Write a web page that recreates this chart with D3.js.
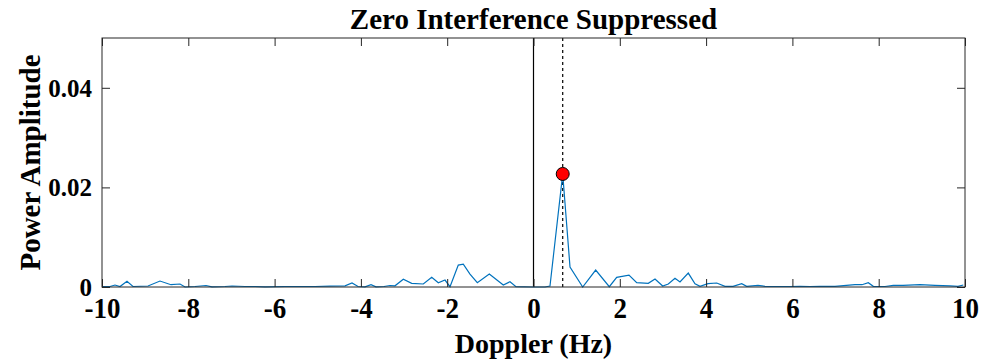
<!DOCTYPE html>
<html>
<head>
<meta charset="utf-8">
<script src="https://cdn.jsdelivr.net/npm/d3@7"></script>
<style>
  body { margin: 0; background: #fff; }
  text { font-family: "Liberation Serif", "Times New Roman", serif; font-weight: bold; fill: #000; }
</style>
</head>
<body>
<div id="chart"></div>
<script>
const width = 996;
const height = 360;
const margin = { top: 38, right: 31, bottom: 73, left: 102 };
const innerWidth = width - margin.left - margin.right;
const innerHeight = height - margin.top - margin.bottom;

// spectrum
const doppler = [-10.00, -9.815, -9.699, -9.583, -9.421, -9.282, -8.934, -8.656, -8.401, -8.192,
  -8.076, -7.845, -7.590, -7.451, -7.150, -6.987, -6.686, -6.454, -6.222, -5.759,
  -5.411, -5.064, -4.716, -4.368, -4.206, -4.067, -3.905, -3.766, -3.650, -3.465,
  -3.326, -3.210, -3.017, -2.823, -2.554, -2.359, -2.206, -2.051, -1.935, -1.743,
  -1.627, -1.472, -1.302, -1.024, -0.700, -0.545, -0.406, -0.012, 0.266, 0.382,
  0.677, 0.846, 1.140, 1.441, 1.757, 1.928, 2.213, 2.392, 2.660, 2.816,
  2.994, 3.124, 3.279, 3.395, 3.587, 3.743, 3.859, 4.044, 4.246, 4.438,
  4.624, 4.825, 4.941, 5.203, 5.365, 5.597, 5.944, 6.176, 6.408, 6.640,
  6.987, 7.451, 7.613, 7.759, 7.875, 8.146, 8.338, 8.563, 8.957, 9.305,
  9.652, 9.838, 9.961];
const power = [0.0001, 0.0001, 0.0004, 0.0001, 0.00114, 0.0001, 0.0002, 0.0012, 0.00046, 0.0006,
  0.0, 0.0001, 0.0003, 0.00004, 0.0001, 0.0002, 0.0001, 0.0001, 0.00004, 0.0001,
  0.0001, 0.0001, 0.00016, 0.00024, 0.0008, 0.0001, 0.00004, 0.00046, 0.00004, 0.0001,
  0.0003, 0.00024, 0.00155, 0.00074, 0.0006, 0.00195, 0.00086, 0.0014, 0.00006, 0.0044,
  0.0046, 0.0026, 0.00086, 0.0026, 0.0004, 0.00106, 0.00006, 0.0, 0.0, 0.0002,
  0.0227, 0.0040, 0.0, 0.0034, 0.00006, 0.00195, 0.0024, 0.00086, 0.00074, 0.0016,
  0.0002, 0.0006, 0.00175, 0.001, 0.0028, 0.00066, 0.00014, 0.00066, 0.0008, 0.00014,
  0.00014, 0.00066, 0.00014, 0.00034, 0.00014, 0.0001, 0.0001, 0.00014, 0.0001, 0.00014,
  0.00014, 0.00046, 0.00046, 0.00086, 0.00014, 0.0001, 0.00034, 0.00034, 0.00046, 0.00034,
  0.00024, 0.00014, 0.0004];

const peak = { doppler: 0.677, power: 0.0227 };
const xTicks = [-10, -8, -6, -4, -2, 0, 2, 4, 6, 8, 10];
const yTicks = [0, 0.02, 0.04];
const yTickLabels = ['0', '0.02', '0.04'];
const axisColor = '#262626';
const lineColor = '#0072BD';
const tickLen = 8;

const data = doppler.map((d, i) => ({ x: d, y: power[i] }));

const svg = d3.select('#chart').append('svg')
  .attr('width', width)
  .attr('height', height);

const g = svg.append('g')
  .attr('transform', `translate(${margin.left}, ${margin.top})`);

const x = d3.scaleLinear().domain([-10, 10]).range([0, innerWidth]);
const y = d3.scaleLinear().domain([0, 0.05]).range([innerHeight, 0]);

// zero line and peak marker line
g.append('line')
  .attr('x1', x(0)).attr('x2', x(0))
  .attr('y1', 0).attr('y2', innerHeight)
  .attr('stroke', '#000').attr('stroke-width', 1.2);

g.append('line')
  .attr('x1', x(peak.doppler)).attr('x2', x(peak.doppler))
  .attr('y1', 0).attr('y2', innerHeight)
  .attr('stroke', '#000').attr('stroke-width', 1.2)
  .attr('stroke-dasharray', '3,3');

// spectrum
g.append('path')
  .datum(data)
  .attr('fill', 'none')
  .attr('stroke', lineColor)
  .attr('stroke-width', 1.2)
  .attr('d', d3.line().x(d => x(d.x)).y(d => y(d.y)));

// axes, ticks inward on all sides, hyphen minus like the original
const xAxis = d3.axisBottom(x).tickValues(xTicks).tickSizeInner(-tickLen).tickSizeOuter(0).tickPadding(12)
  .tickFormat(d => String(d));
const yAxis = d3.axisLeft(y).tickValues(yTicks).tickSizeInner(-tickLen).tickSizeOuter(0).tickPadding(10)
  .tickFormat((d, i) => yTickLabels[i]);

const xAxisG = g.append('g').attr('transform', `translate(0, ${innerHeight})`).call(xAxis);
xAxisG.selectAll('text')
  .style('font-size', '27px')
  .attr('y', 0).attr('dy', 0)
  .attr('transform', 'translate(0, 31) scale(1, 1.12)');
const yAxisG = g.append('g').call(yAxis);
yAxisG.selectAll('text').style('font-size', '25px').attr('dy', '0.34em');

g.append('g').call(d3.axisTop(x).tickValues(xTicks).tickSizeInner(-tickLen).tickSizeOuter(0).tickFormat(''));
g.append('g').attr('transform', `translate(${innerWidth}, 0)`)
  .call(d3.axisRight(y).tickValues(yTicks).tickSizeInner(-tickLen).tickSizeOuter(0).tickFormat(''));

g.selectAll('.domain').remove();
g.selectAll('.tick line').attr('stroke', axisColor);

g.append('rect')
  .attr('width', innerWidth).attr('height', innerHeight)
  .attr('fill', 'none').attr('stroke', axisColor).attr('stroke-width', 1);

// peak dot
g.append('circle')
  .attr('cx', x(peak.doppler)).attr('cy', y(peak.power))
  .attr('r', 6.5)
  .attr('fill', '#ff0000').attr('stroke', '#000').attr('stroke-width', 1);

// labels
svg.append('text')
  .attr('x', margin.left + innerWidth / 2).attr('y', 29)
  .attr('text-anchor', 'middle')
  .style('font-size', '29px')
  .text('Zero Interference Suppressed');

svg.append('text')
  .attr('x', margin.left + innerWidth / 2).attr('y', 353)
  .attr('text-anchor', 'middle')
  .style('font-size', '28px')
  .text('Doppler (Hz)');

svg.append('text')
  .attr('transform', `translate(40, ${margin.top + innerHeight / 2}) rotate(-90)`)
  .attr('text-anchor', 'middle')
  .style('font-size', '29px')
  .text('Power Amplitude');
</script>
</body>
</html>
